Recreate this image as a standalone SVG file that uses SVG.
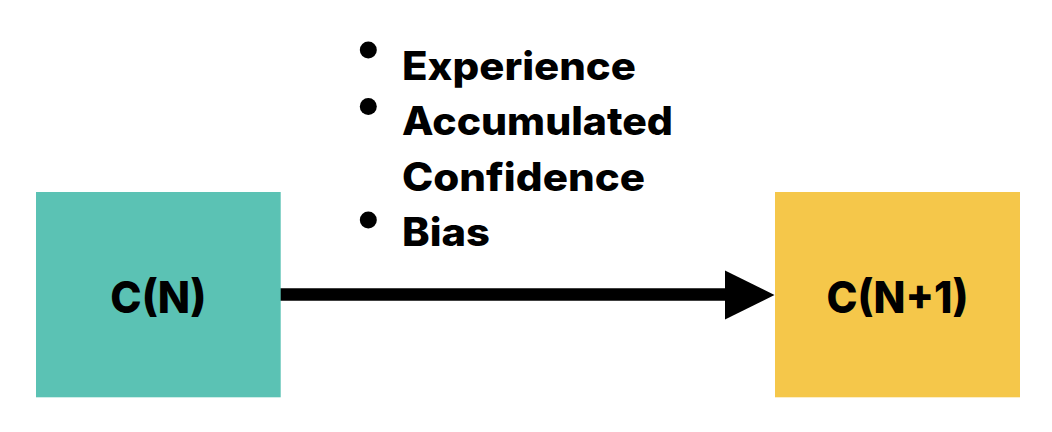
<svg xmlns="http://www.w3.org/2000/svg" width="1052" height="432" viewBox="0 0 1052 432">
<style>
  .lbl { font-family: Inter, "Noto Sans", "Liberation Sans", sans-serif; font-weight: 800; fill: #000; }
  .box-text { font-size: 44px; text-anchor: middle; }
  .item { font-size: 39px; }
</style>
<rect width="1052" height="432" fill="#fff"/>
<g id="connectors">
  <line x1="280" y1="294.5" x2="725" y2="294.5" stroke="#000" stroke-width="12.5"/>
  <path d="M725,270.5 L774.5,295 L725,319.5 Z" fill="#000"/>
</g>
<g id="node-cn">
  <rect x="36" y="192" width="244.7" height="205.3" fill="#5BC2B4"/>
  <text class="lbl box-text" x="158.3" y="313.3" textLength="96" lengthAdjust="spacingAndGlyphs">C(N)</text>
</g>
<g id="node-cn1">
  <rect x="775" y="192" width="245" height="205.3" fill="#F5C74A"/>
  <text class="lbl box-text" x="897.5" y="313.3" textLength="142" lengthAdjust="spacingAndGlyphs">C(N+1)</text>
</g>
<g id="factors">
  <circle cx="368.3" cy="50" r="8.5" fill="#000"/>
  <circle cx="368.3" cy="106.5" r="8.5" fill="#000"/>
  <circle cx="368.3" cy="220" r="8.5" fill="#000"/>
  <text class="lbl item" x="402" y="79.5" textLength="234" lengthAdjust="spacingAndGlyphs">Experience</text>
  <text class="lbl item" x="402" y="135" textLength="271" lengthAdjust="spacingAndGlyphs">Accumulated</text>
  <text class="lbl item" x="402" y="191" textLength="243" lengthAdjust="spacingAndGlyphs">Confidence</text>
  <text class="lbl item" x="402" y="245.5" textLength="88" lengthAdjust="spacingAndGlyphs">Bias</text>
</g>
</svg>
